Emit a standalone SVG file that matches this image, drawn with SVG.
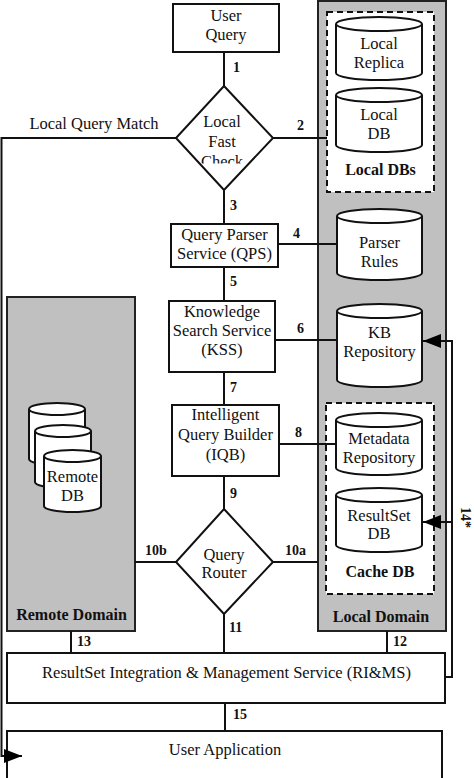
<svg xmlns="http://www.w3.org/2000/svg" width="474" height="778" viewBox="0 0 474 778">
<style>
  text { font-family: "Liberation Serif", "Times New Roman", serif; fill: #111; }
  .t { font-size: 16.5px; text-anchor: middle; }
  .b { font-size: 16px; font-weight: bold; text-anchor: middle; }
  .n { font-size: 14px; font-weight: bold; }
  .box { fill: #fff; stroke: #111; stroke-width: 2; }
  .dom { fill: #c0c0c0; stroke: #222; stroke-width: 2; }
  .dash { fill: #fff; stroke: #111; stroke-width: 2; stroke-dasharray: 6 4; }
  .cyl { fill: #fff; stroke: #111; stroke-width: 2; }
  .ln { fill: none; stroke: #111; stroke-width: 2; }
</style>
<defs>
  <marker id="ah" markerUnits="userSpaceOnUse" markerWidth="18" markerHeight="14" refX="18" refY="7" orient="auto">
    <path d="M0,0 L18,7 L0,14 z" fill="#000"/>
  </marker>
  <clipPath id="clipCheck"><rect x="190" y="140" width="70" height="23.5"/></clipPath>
</defs>

<g id="local-domain">
  <rect class="dom" x="318" y="1" width="128" height="630"/>
  <text class="b" x="381" y="622">Local Domain</text>
</g>
<g id="remote-domain">
  <rect class="dom" x="7" y="297" width="128" height="334"/>
  <text class="b" x="71.5" y="620">Remote Domain</text>
</g>

<g id="local-dbs">
  <rect class="dash" x="327" y="12" width="107" height="180"/>
  <text class="b" x="380.5" y="175">Local DBs</text>
</g>
<g id="cache-db">
  <rect class="dash" x="326" y="403" width="108" height="191"/>
  <text class="b" x="380" y="577">Cache DB</text>
</g>

<g id="user-query">
  <rect class="box" x="173" y="4" width="106" height="48"/>
  <text class="t" x="226" y="21">User</text>
  <text class="t" x="226" y="40">Query</text>
</g>
<g id="local-fast-check">
  <polygon class="box" points="224,86 273,138 224,190 176,138"/>
  <text class="t" x="222" y="127">Local</text>
  <text class="t" x="222" y="147">Fast</text>
  <text class="t" x="222" y="167" clip-path="url(#clipCheck)">Check</text>
</g>
<g id="qps">
  <rect class="box" x="171" y="224" width="107" height="43"/>
  <text class="t" x="224.5" y="240">Query Parser</text>
  <text class="t" x="224.5" y="259">Service (QPS)</text>
</g>
<g id="kss">
  <rect class="box" x="169" y="301" width="106" height="71"/>
  <text class="t" x="222" y="317">Knowledge</text>
  <text class="t" x="222" y="336">Search Service</text>
  <text class="t" x="222" y="355">(KSS)</text>
</g>
<g id="iqb">
  <rect class="box" x="172" y="405" width="107" height="71"/>
  <text class="t" x="225.5" y="420">Intelligent</text>
  <text class="t" x="225.5" y="440">Query Builder</text>
  <text class="t" x="225.5" y="460">(IQB)</text>
</g>
<g id="query-router">
  <polygon class="box" points="224,509 273,562 224,614 176,562"/>
  <text class="t" x="224" y="560">Query</text>
  <text class="t" x="224" y="578">Router</text>
</g>
<g id="rims">
  <rect class="box" x="7" y="653" width="438" height="50"/>
  <text class="t" x="226.5" y="678">ResultSet Integration &amp; Management Service (RI&amp;MS)</text>
</g>
<g id="user-application">
  <rect class="box" x="7" y="731" width="435" height="60"/>
  <text class="t" x="225" y="755">User Application</text>
</g>

<g id="local-replica">
  <path class="cyl" d="M336,24 V73 A43,7 0 0 0 422,73 V24"/>
  <ellipse class="cyl" cx="379" cy="24" rx="43" ry="7"/>
  <text class="t" x="379" y="49">Local</text>
  <text class="t" x="379" y="68">Replica</text>
</g>
<g id="local-db">
  <path class="cyl" d="M336,95 V145 A43,7 0 0 0 422,145 V95"/>
  <ellipse class="cyl" cx="379" cy="95" rx="43" ry="7"/>
  <text class="t" x="379" y="120">Local</text>
  <text class="t" x="379" y="139">DB</text>
</g>
<g id="parser-rules">
  <path class="cyl" d="M337,216 V273 A42.5,7 0 0 0 422,273 V216"/>
  <ellipse class="cyl" cx="379.5" cy="216" rx="42.5" ry="7"/>
  <text class="t" x="379.5" y="248">Parser</text>
  <text class="t" x="379.5" y="267">Rules</text>
</g>
<g id="kb-repository">
  <path class="cyl" d="M337,311 V380 A42.5,7 0 0 0 422,380 V311"/>
  <ellipse class="cyl" cx="379.5" cy="311" rx="42.5" ry="7"/>
  <text class="t" x="379.5" y="338">KB</text>
  <text class="t" x="379.5" y="357">Repository</text>
</g>
<g id="metadata-repository">
  <path class="cyl" d="M336,420 V468 A43,7 0 0 0 422,468 V420"/>
  <ellipse class="cyl" cx="379" cy="420" rx="43" ry="7"/>
  <text class="t" x="379" y="444">Metadata</text>
  <text class="t" x="379" y="463">Repository</text>
</g>
<g id="resultset-db">
  <path class="cyl" d="M336,495 V545 A43,7 0 0 0 422,545 V495"/>
  <ellipse class="cyl" cx="379" cy="495" rx="43" ry="7"/>
  <text class="t" x="379" y="521">ResultSet</text>
  <text class="t" x="379" y="539">DB</text>
</g>
<g id="remote-db">
  <path class="cyl" d="M29,409 V459 A28,6 0 0 0 85,459 V409"/>
  <ellipse class="cyl" cx="57" cy="409" rx="28" ry="6"/>
  <path class="cyl" d="M35,431 V482 A28,6 0 0 0 91,482 V431"/>
  <ellipse class="cyl" cx="63" cy="431" rx="28" ry="6"/>
  <path class="cyl" d="M44,456 V506 A28.5,6 0 0 0 101,506 V456"/>
  <ellipse class="cyl" cx="72.5" cy="456" rx="28.5" ry="6"/>
  <text class="t" x="72.5" y="482">Remote</text>
  <text class="t" x="72.5" y="501">DB</text>
</g>

<g id="connectors">
  <line class="ln" x1="224" y1="52" x2="224" y2="86"/>
  <path class="ln" d="M176,138 H1.5 V756 H22" marker-end="url(#ah)"/>
  <line class="ln" x1="273" y1="138" x2="327" y2="138"/>
  <line class="ln" x1="224" y1="190" x2="224" y2="224"/>
  <line class="ln" x1="278" y1="244" x2="337" y2="244"/>
  <line class="ln" x1="224" y1="267" x2="224" y2="301"/>
  <line class="ln" x1="275" y1="340" x2="337" y2="340"/>
  <line class="ln" x1="224" y1="372" x2="224" y2="405"/>
  <line class="ln" x1="279" y1="444" x2="336" y2="444"/>
  <line class="ln" x1="224" y1="476" x2="224" y2="509"/>
  <line class="ln" x1="273" y1="562" x2="318" y2="562"/>
  <line class="ln" x1="135" y1="562" x2="176" y2="562"/>
  <line class="ln" x1="224" y1="614" x2="224" y2="653"/>
  <line class="ln" x1="71" y1="631" x2="71" y2="653"/>
  <line class="ln" x1="387" y1="631" x2="387" y2="653"/>
  <line class="ln" x1="225" y1="703" x2="225" y2="731"/>
  <path class="ln" d="M445,677 H452 V341 H423" marker-end="url(#ah)"/>
  <path class="ln" d="M452,522 H423" marker-end="url(#ah)"/>
  <text class="n" x="233" y="72">1</text>
  <text class="n" x="297" y="130">2</text>
  <text class="n" x="230" y="210">3</text>
  <text class="n" x="293" y="238">4</text>
  <text class="n" x="230" y="286">5</text>
  <text class="n" x="297" y="333">6</text>
  <text class="n" x="230" y="392">7</text>
  <text class="n" x="295" y="437">8</text>
  <text class="n" x="230" y="498">9</text>
  <text class="n" x="285" y="555">10a</text>
  <text class="n" x="145" y="555">10b</text>
  <text class="n" x="229" y="632">11</text>
  <text class="n" x="77" y="646">13</text>
  <text class="n" x="393" y="646">12</text>
  <text class="n" x="233" y="719">15</text>
  <text class="n" transform="translate(461,507) rotate(90)">14*</text>
  <text class="t" x="94" y="129">Local Query Match</text>
</g>
</svg>
